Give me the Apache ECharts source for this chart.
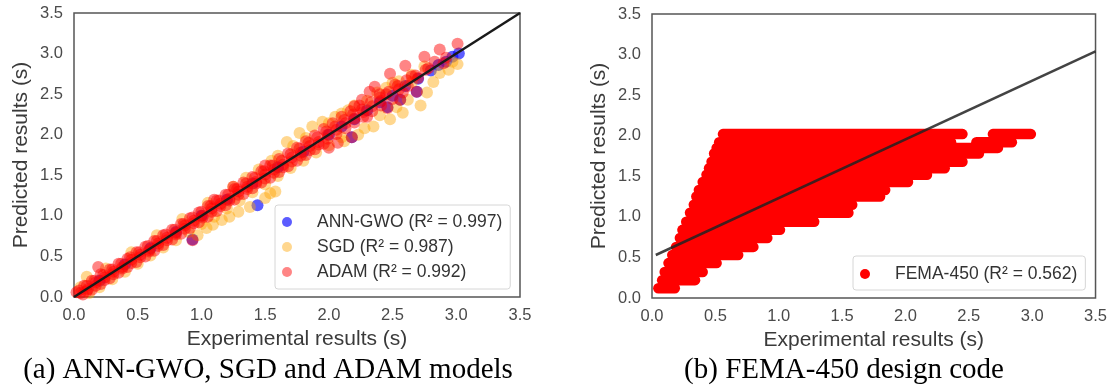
<!DOCTYPE html>
<html>
<head>
<meta charset="utf-8">
<script src="https://cdn.jsdelivr.net/npm/echarts@6/dist/echarts.min.js"></script>
<style>
  html, body { margin: 0; padding: 0; background: #fff; }
  #chart { width: 1110px; height: 389px; }
</style>
</head>
<body>
<div id="chart"></div>
<script>
// tick labels shared by both panels
const tickValues = [0, 0.5, 1, 1.5, 2, 2.5, 3, 3.5]

// (a) predicted vs experimental, [x, y] pairs
const annGwoPoints = [
  [3.02, 3.0], [2.97, 2.96], [2.92, 2.9], [2.86, 2.86], [2.8, 2.79], [2.7, 2.69], [2.6, 2.6],
  [2.5, 2.48], [2.4, 2.4], [2.3, 2.3], [2.2, 2.19], [2.1, 2.1], [2.0, 2.0], [1.8, 1.79],
  [1.6, 1.6], [1.4, 1.4], [1.2, 1.2], [1.0, 1.0], [0.8, 0.8], [0.6, 0.6], [0.4, 0.4], [0.2, 0.2],
  [1.44, 1.13], [0.93, 0.71], [2.18, 1.97], [2.46, 2.34], [2.69, 2.53], [2.56, 2.43]
]
const sgdPoints = [
  [0.1, 0.25], [0.05, 0.12], [0.12, 0.05], [0.2, 0.12], [0.3, 0.22], [0.4, 0.31], [0.5, 0.41],
  [0.6, 0.51], [0.7, 0.61], [0.8, 0.7], [0.9, 0.8], [1.0, 0.9], [1.1, 0.99], [1.2, 1.09],
  [1.3, 1.19], [1.4, 1.29], [1.5, 1.39], [1.6, 1.49], [1.7, 1.59], [1.8, 1.68], [1.9, 1.78],
  [2.0, 1.87], [2.1, 1.97],
  [0.25, 0.35], [0.45, 0.55], [0.65, 0.76], [0.85, 0.96], [1.05, 1.16], [1.25, 1.36], [1.45, 1.57],
  [1.6, 1.74], [1.67, 1.91], [1.77, 2.02], [1.87, 2.1], [1.95, 2.16], [2.05, 2.22], [2.15, 2.3],
  [2.3, 2.42], [2.45, 2.58], [2.55, 2.66], [2.65, 2.74], [2.75, 2.84],
  [1.35, 1.47], [1.55, 1.68], [1.72, 1.86], [1.82, 1.96], [2.0, 2.14], [2.1, 2.26], [2.2, 2.36],
  [2.38, 2.52], [2.5, 2.64],
  [3.01, 2.87], [2.94, 2.8], [2.82, 2.65], [2.77, 2.52], [2.72, 2.36], [2.58, 2.27], [2.48, 2.19],
  [2.35, 2.1], [2.4, 2.24], [2.23, 2.0], [2.53, 2.34], [2.62, 2.43], [2.65, 2.65], [2.87, 2.76],
  [1.54, 1.28], [1.58, 1.3], [1.5, 1.22], [1.38, 1.11], [1.29, 1.05], [1.22, 0.99], [1.16, 0.95],
  [1.04, 0.85], [1.09, 0.89], [0.97, 0.76], [2.97, 2.9], [2.12, 1.92], [2.28, 2.08]
]
const adamPoints = [
  [0.02, 0.06], [0.08, 0.14], [0.14, 0.2], [0.19, 0.37], [0.21, 0.28], [0.28, 0.34], [0.35, 0.41],
  [0.42, 0.47], [0.49, 0.55], [0.56, 0.62], [0.63, 0.69], [0.7, 0.76], [0.77, 0.83], [0.84, 0.9],
  [0.91, 0.97], [0.98, 1.04], [1.05, 1.12], [1.12, 1.19], [1.19, 1.26], [1.26, 1.33], [1.33, 1.41],
  [1.4, 1.48], [1.47, 1.55], [1.54, 1.62], [1.61, 1.7], [1.68, 1.77], [1.75, 1.84], [1.82, 1.92],
  [1.89, 1.99], [1.96, 2.07], [2.03, 2.14], [2.1, 2.22], [2.17, 2.29], [2.24, 2.36],
  [0.04, 0.08], [0.1, 0.14], [0.16, 0.2], [0.23, 0.27], [0.3, 0.34], [0.37, 0.41], [0.44, 0.49],
  [0.51, 0.55], [0.58, 0.63], [0.65, 0.69], [0.72, 0.77], [0.79, 0.83], [0.86, 0.9], [0.93, 0.98],
  [1.0, 1.05], [1.07, 1.12], [1.14, 1.19], [1.21, 1.26], [1.28, 1.33], [1.35, 1.4], [1.42, 1.47],
  [1.49, 1.55], [1.56, 1.62], [1.63, 1.68], [1.7, 1.76], [1.77, 1.83], [1.84, 1.9], [1.91, 1.97],
  [1.98, 2.04], [2.05, 2.1], [2.12, 2.18], [2.19, 2.25], [2.26, 2.31], [2.33, 2.4], [2.4, 2.46],
  [2.47, 2.53], [2.54, 2.6], [2.61, 2.67], [2.68, 2.73], [2.76, 2.8],
  [0.05, 0.05], [0.11, 0.1], [0.17, 0.18], [0.24, 0.24], [0.31, 0.31], [0.38, 0.37], [0.45, 0.46],
  [0.52, 0.52], [0.59, 0.58], [0.66, 0.66], [0.73, 0.73], [0.8, 0.79], [0.87, 0.88], [0.94, 0.94],
  [1.01, 1.0], [1.08, 1.09], [1.15, 1.15], [1.22, 1.21], [1.29, 1.3], [1.36, 1.36], [1.43, 1.42],
  [1.5, 1.51], [1.57, 1.57], [1.64, 1.63], [1.71, 1.72], [1.78, 1.78], [1.85, 1.86], [1.92, 1.91],
  [1.99, 2.0], [2.06, 2.06], [2.13, 2.14], [2.2, 2.2], [2.27, 2.28], [2.34, 2.35], [2.41, 2.42],
  [2.55, 2.56], [2.7, 2.7],
  [0.1, 0.07], [0.17, 0.14], [0.24, 0.21], [0.31, 0.28], [0.38, 0.35], [0.45, 0.42], [0.52, 0.49],
  [0.59, 0.56], [0.66, 0.63], [0.73, 0.7], [0.8, 0.77], [0.87, 0.84], [0.94, 0.91], [1.01, 0.98],
  [1.08, 1.05], [1.15, 1.12], [1.22, 1.19], [1.29, 1.26], [1.36, 1.33], [1.43, 1.4], [1.5, 1.46],
  [1.57, 1.53], [1.64, 1.6], [1.71, 1.67], [1.78, 1.74], [1.85, 1.81], [1.92, 1.88], [1.99, 1.95],
  [2.06, 2.01], [2.13, 2.08], [2.2, 2.15], [2.27, 2.22], [2.34, 2.29], [2.41, 2.36], [2.5, 2.44],
  [2.58, 2.52],
  [0.07, 0.03], [0.14, 0.09], [0.21, 0.16], [0.28, 0.23], [0.35, 0.3], [0.42, 0.37], [0.49, 0.43],
  [0.56, 0.5], [0.63, 0.57], [0.7, 0.64], [0.77, 0.71], [0.84, 0.78], [0.91, 0.85], [0.98, 0.92],
  [1.05, 0.99], [1.12, 1.06], [1.19, 1.13], [1.26, 1.2], [1.33, 1.27], [1.4, 1.34], [1.47, 1.41],
  [1.54, 1.47], [1.61, 1.54], [1.68, 1.61], [1.75, 1.68], [1.82, 1.75], [1.89, 1.82], [1.96, 1.89],
  [3.01, 3.12], [2.87, 3.05], [2.75, 2.96], [2.6, 2.85], [2.48, 2.75], [2.83, 2.9], [2.69, 2.53],
  [2.56, 2.43], [2.46, 2.33], [2.18, 1.97], [2.07, 1.9], [2.0, 1.84], [2.36, 2.59], [2.32, 2.53],
  [2.26, 2.43], [2.4, 2.5], [2.52, 2.62], [2.65, 2.72], [2.78, 2.82], [2.92, 2.95], [2.62, 2.6],
  [2.3, 2.22], [0.93, 0.7], [1.25, 1.36], [1.5, 1.62], [1.1, 1.2], [2.2, 2.35], [2.45, 2.5], [2.9, 2.88]
]
const idealLine = [[0, 0], [3.5, 3.5]]

// (b) FEMA-450: predictions sit on discrete levels, each row is [y, x from, x to]
const femaRows = [
  [0.12, 0.05, 0.18], [0.22, 0.08, 0.34], [0.32, 0.10, 0.40], [0.43, 0.13, 0.51],
  [0.53, 0.16, 0.68], [0.63, 0.19, 0.80], [0.74, 0.22, 0.91], [0.84, 0.24, 1.01],
  [0.94, 0.27, 1.28], [1.05, 0.30, 1.55], [1.15, 0.33, 1.58], [1.25, 0.35, 1.80],
  [1.33, 0.37, 1.84], [1.43, 0.40, 2.02], [1.52, 0.43, 2.17], [1.60, 0.45, 2.31],
  [1.68, 0.47, 2.45], [1.78, 0.49, 2.58], [1.85, 0.51, 2.73],
  [1.92, 0.53, 2.36], [1.92, 2.56, 2.84],
  [2.02, 0.56, 2.45], [2.02, 2.69, 2.99]
]
const femaFit = [[0.03, 0.53], [3.5, 3.04]]

const names = ['ANN-GWO (R² = 0.997)', 'SGD (R² = 0.987)', 'ADAM (R² = 0.992)']
const femaName = 'FEMA-450 (R² = 0.562)'

const sans = '"Liberation Sans", Arial, sans-serif'
const serif = '"Liberation Serif", "Times New Roman", serif'

const chart = echarts.init(document.getElementById('chart'), null, { renderer: 'canvas' })

const makeAxis = (gridIndex, isX) => ({
  type: 'value',
  gridIndex,
  min: tickValues[0],
  max: tickValues[tickValues.length - 1],
  interval: 0.5,
  name: isX ? 'Experimental results (s)' : 'Predicted results (s)',
  nameLocation: 'middle',
  nameGap: isX ? 32 : 42,
  nameTextStyle: { fontFamily: sans, fontSize: 21, color: '#3a3a3a' },
  axisLine: { show: false },
  axisTick: { show: false },
  splitLine: { show: false },
  axisLabel: {
    fontFamily: sans,
    fontSize: 16.5,
    color: '#4a4a4a',
    margin: isX ? 10 : 11,
    formatter: v => v.toFixed(1)
  }
})

const legendBase = {
  orient: 'vertical',
  icon: 'circle',
  itemWidth: 10,
  itemHeight: 10,
  itemGap: 7,
  backgroundColor: 'rgba(255,255,255,0.85)',
  borderColor: '#d6d6d6',
  borderWidth: 1,
  borderRadius: 3,
  textStyle: { fontFamily: sans, fontSize: 17.5, color: '#333', lineHeight: 18, padding: [0, 0, 0, 20] }
}

const scatter = (name, data, color) => ({
  name,
  type: 'scatter',
  xAxisIndex: 0,
  yAxisIndex: 0,
  data,
  symbolSize: 12,
  itemStyle: { color },
  emphasis: { disabled: true }
})

chart.setOption({
  animation: false,
  grid: [
    { left: 74, top: 13, width: 446, height: 284, show: true, borderColor: '#555', borderWidth: 1.5 },
    { left: 652, top: 14, width: 444, height: 284, show: true, borderColor: '#555', borderWidth: 1.5 }
  ],
  xAxis: [makeAxis(0, true), makeAxis(1, true)],
  yAxis: [makeAxis(0, false), makeAxis(1, false)],
  legend: [
    { ...legendBase, left: 275, top: 205, padding: [8, 8, 8, 7], data: names },
    { ...legendBase, left: 853, top: 256, padding: [9, 8, 7, 7], data: [femaName] }
  ],
  graphic: [
    {
      type: 'text', x: 268, y: 370,
      style: { text: '(a) ANN-GWO, SGD and ADAM models', font: '29px ' + serif, fill: '#000', align: 'center', verticalAlign: 'middle' }
    },
    {
      type: 'text', x: 844, y: 370,
      style: { text: '(b) FEMA-450 design code', font: '29px ' + serif, fill: '#000', align: 'center', verticalAlign: 'middle' }
    }
  ],
  series: [
    scatter(names[0], annGwoPoints, 'rgba(0,0,255,0.8)'),
    scatter(names[1], sgdPoints, 'rgba(255,165,0,0.55)'),
    scatter(names[2], adamPoints, 'rgba(255,0,0,0.6)'),
    {
      type: 'line',
      xAxisIndex: 0,
      yAxisIndex: 0,
      data: idealLine,
      symbol: 'none',
      z: 5,
      lineStyle: { color: '#1a1a1a', width: 2.5 }
    },
    {
      name: femaName,
      type: 'custom',
      xAxisIndex: 1,
      yAxisIndex: 1,
      data: femaRows,
      encode: { x: [1, 2], y: 0 },
      itemStyle: { color: '#ff0000' },
      renderItem: (params, api) => {
        const y = api.value(0)
        const a = api.coord([api.value(1), y])
        const b = api.coord([api.value(2), y])
        return {
          type: 'line',
          shape: { x1: a[0], y1: a[1], x2: b[0], y2: b[1] },
          style: { stroke: '#ff0000', lineWidth: 10.5, lineCap: 'round' }
        }
      }
    },
    {
      type: 'line',
      xAxisIndex: 1,
      yAxisIndex: 1,
      data: femaFit,
      symbol: 'none',
      z: 5,
      lineStyle: { color: '#222', width: 2.5, opacity: 0.85 }
    }
  ]
})
</script>
</body>
</html>
